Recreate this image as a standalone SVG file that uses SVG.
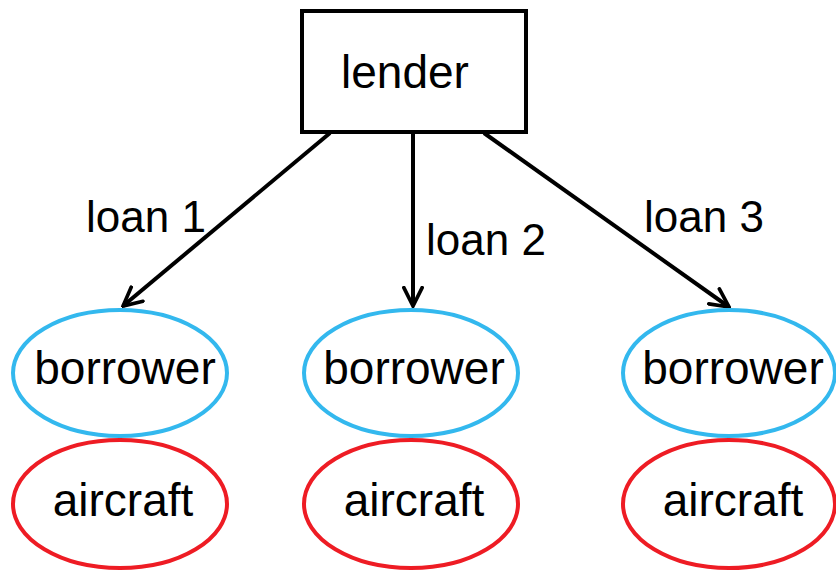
<svg xmlns="http://www.w3.org/2000/svg" width="836" height="571" viewBox="0 0 836 571">
<style>
text{font-family:"Liberation Sans",Arial,sans-serif;font-size:44px;fill:#000}
.c{text-anchor:middle;font-size:46px}
.box{fill:#fff;stroke:#000;stroke-width:4}
.bor{fill:#fff;stroke:#33B8EE;stroke-width:4}
.air{fill:#fff;stroke:#EE1C24;stroke-width:4}
.edge{stroke:#000;stroke-width:4;fill:none;marker-end:url(#ah)}
</style>
<defs>
<marker id="ah" viewBox="0 0 12 12" refX="11" refY="6" markerWidth="5.5" markerHeight="5.5" orient="auto" markerUnits="strokeWidth">
<path d="M1,1 L11,6 L1,11" fill="none" stroke="#000" stroke-width="2" stroke-linecap="round" stroke-linejoin="miter"/>
</marker>
</defs>
<rect width="836" height="571" fill="#fff"/>
<g id="connectors">
<line class="edge" x1="330" y1="133" x2="123" y2="306"/>
<line class="edge" x1="413" y1="133" x2="413" y2="306"/>
<line class="edge" x1="484" y1="133" x2="729" y2="307"/>
<text x="86" y="232">loan 1</text>
<text x="426" y="255">loan 2</text>
<text x="644" y="232">loan 3</text>
</g>
<g id="lender">
<rect class="box" x="302" y="11" width="224" height="121"/>
<text class="c" x="405" y="88">lender</text>
</g>
<g id="borrower1">
<ellipse class="bor" cx="120" cy="373" rx="107" ry="63"/>
<text class="c" x="125" y="384">borrower</text>
</g>
<g id="aircraft1">
<ellipse class="air" cx="120" cy="504" rx="107" ry="64"/>
<text class="c" x="123" y="516">aircraft</text>
</g>
<g id="borrower2">
<ellipse class="bor" cx="411" cy="373" rx="107" ry="63"/>
<text class="c" x="414" y="384">borrower</text>
</g>
<g id="aircraft2">
<ellipse class="air" cx="411" cy="504" rx="107" ry="64"/>
<text class="c" x="414" y="516">aircraft</text>
</g>
<g id="borrower3">
<ellipse class="bor" cx="729" cy="373" rx="106" ry="63"/>
<text class="c" x="733" y="384">borrower</text>
</g>
<g id="aircraft3">
<ellipse class="air" cx="729" cy="504" rx="106" ry="64"/>
<text class="c" x="733" y="516">aircraft</text>
</g>
</svg>
